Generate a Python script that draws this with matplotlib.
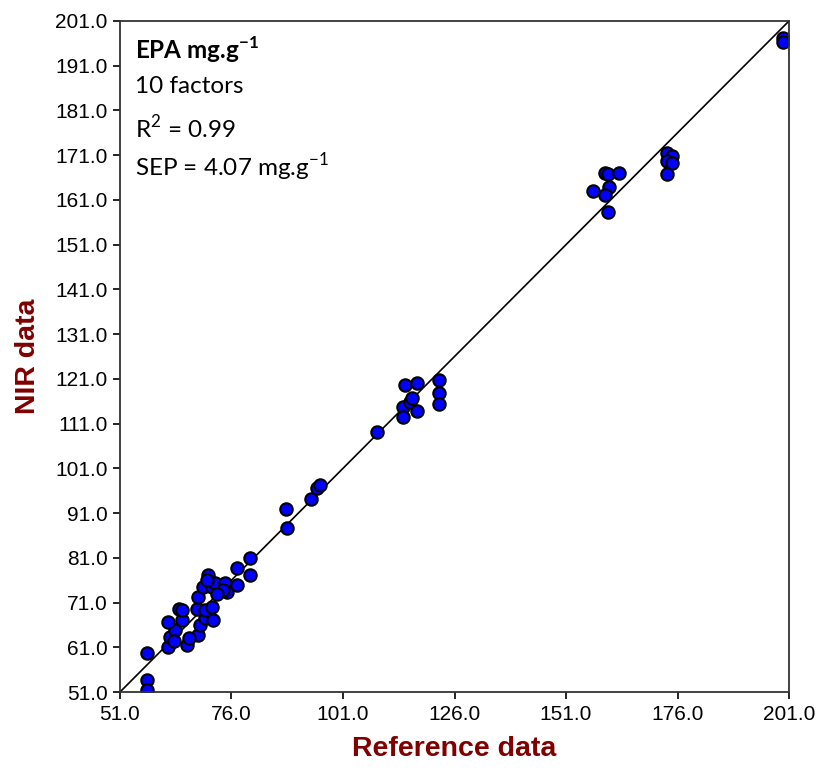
import matplotlib
matplotlib.use("Agg")
import matplotlib.pyplot as plt

plt.rcParams["mathtext.fontset"] = "custom"
plt.rcParams["mathtext.rm"] = "Lato"
plt.rcParams["mathtext.bf"] = "Lato:bold"

# reference (x) vs NIR predicted (y)
ref_data = [
    57.0, 57.0, 57.0,
    61.8, 66.0, 62.2, 63.3, 61.8, 64.9, 64.2, 65.0, 68.5, 68.9, 70.1, 71.9,
    68.3, 70.1, 68.5, 71.6, 69.6, 70.7, 71.6, 72.3, 74.5, 75.0, 74.1, 77.2,
    77.2, 80.1, 80.1, 63.0, 66.5, 70.5, 72.8,
    88.2, 88.4, 93.8, 95.2, 95.8,
    108.6, 114.9, 117.6, 114.5, 116.0, 116.5, 114.5, 117.6, 122.5, 122.5, 122.5,
    157.1, 159.7, 160.4, 162.9, 160.6, 159.7, 160.4,
    173.6, 174.8, 173.6, 174.8, 173.6,
    199.7, 199.7,
]
nir_data = [
    59.7, 53.7, 51.4,
    61.1, 61.5, 63.3, 64.9, 66.7, 67.1, 69.6, 69.3, 63.8, 66.0, 67.6, 67.1,
    69.6, 69.3, 72.3, 70.0, 74.5, 77.2, 74.5, 75.4, 75.4, 73.4, 73.8, 74.9,
    78.7, 77.2, 81.0, 62.5, 63.0, 76.0, 72.8,
    91.9, 87.7, 94.2, 96.6, 97.3,
    109.2, 119.7, 120.1, 114.8, 115.9, 116.8, 112.5, 113.9, 120.8, 117.9, 115.4,
    162.9, 167.1, 166.9, 167.1, 163.8, 162.0, 158.2,
    171.6, 170.9, 169.6, 169.3, 166.7,
    197.1, 196.2,
]

x_ticks = [51, 76, 101, 126, 151, 176, 201]
y_ticks = list(range(51, 202, 10))
lims = [51, 201]

dark_red = "#800000"
tick_font = ["Liberation Sans", "DejaVu Sans"]

fig = plt.figure(figsize=(8.19, 7.75), dpi=100)
ax = fig.add_axes([120 / 819, 83 / 775, 669 / 819, 671 / 775])

ax.plot(lims, lims, color="black", lw=1.2, zorder=1)
ax.scatter(ref_data, nir_data, s=80, color="#0000ff", edgecolors="black",
           linewidths=1.5, zorder=2)

ax.set_xlim(lims)
ax.set_ylim(lims)
ax.set_xticks(x_ticks)
ax.set_yticks(y_ticks)
ax.set_xticklabels([f"{v:.1f}" for v in x_ticks], family=tick_font, fontsize=15)
ax.set_yticklabels([f"{v:.1f}" for v in y_ticks], family=tick_font, fontsize=15)
ax.tick_params(direction="out", length=5, width=1.2, pad=4)
for s in ax.spines.values():
    s.set_linewidth(1.3)
    s.set_color("#333333")

ax.set_xlabel("Reference data", family=["Liberation Sans", "DejaVu Sans"],
              fontsize=20.5, fontweight="bold", color=dark_red, labelpad=9)
ax.set_ylabel("NIR data", family=["Liberation Sans", "DejaVu Sans"],
              fontsize=20.5, fontweight="bold", color=dark_red, labelpad=10)

txt_font = ["Lato", "DejaVu Sans"]
fs = 17.5
ax.text(0.022, 0.98, r"EPA mg.g$^{\mathbf{-1}}$", transform=ax.transAxes,
        family=txt_font, fontsize=fs, fontweight="bold", va="top")
ax.text(0.022, 0.918, "10 factors", transform=ax.transAxes,
        family=txt_font, fontsize=fs, va="top")
ax.text(0.022, 0.862, r"R$^{2}$ = 0.99", transform=ax.transAxes,
        family=txt_font, fontsize=fs, va="top")
ax.text(0.022, 0.806, r"SEP = 4.07 mg.g$^{-1}$", transform=ax.transAxes,
        family=txt_font, fontsize=fs, va="top")

fig.savefig("out.png", dpi=100)
